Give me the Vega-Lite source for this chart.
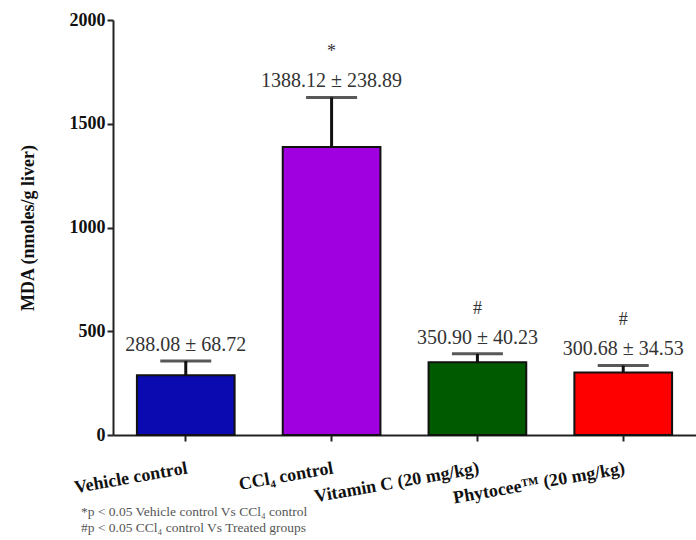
{
  "$schema": "https://vega.github.io/schema/vega-lite/v6.json",
  "autosize": "none",
  "width": 583,
  "height": 415,
  "padding": {"left": 113, "top": 20, "right": 0, "bottom": 105},
  "background": "white",
  "config": {
    "view": {"stroke": null},
    "font": "Liberation Serif"
  },
  "title": {
    "text": ["*p < 0.05 Vehicle control Vs CCl₄ control", "#p < 0.05 CCl₄ control Vs Treated groups"],
    "orient": "bottom",
    "anchor": "start",
    "frame": "group",
    "font": "Liberation Serif",
    "fontSize": 13.5,
    "fontWeight": "normal",
    "color": "#555555",
    "lineHeight": 16,
    "dx": -32,
    "dy": -6
  },
  "data": {
    "values": [
      {"group": "Vehicle control", "mean": 288.08, "sd": 68.72, "hi": 356.80, "label": "288.08 ± 68.72", "sig": ""},
      {"group": "CCl₄ control", "mean": 1388.12, "sd": 238.89, "hi": 1627.01, "label": "1388.12 ± 238.89", "sig": "*"},
      {"group": "Vitamin C (20 mg/kg)", "mean": 350.90, "sd": 40.23, "hi": 391.13, "label": "350.90 ± 40.23", "sig": "#"},
      {"group": "Phytocee™ (20 mg/kg)", "mean": 300.68, "sd": 34.53, "hi": 335.21, "label": "300.68 ± 34.53", "sig": "#"}
    ]
  },
  "encoding": {
    "x": {
      "field": "group",
      "type": "nominal",
      "sort": null,
      "scale": {"paddingInner": 0.33, "paddingOuter": 0.164},
      "axis": {
        "title": null,
        "domainColor": "#222222",
        "domainWidth": 2,
        "tickColor": "#222222",
        "tickWidth": 2,
        "tickSize": 6,
        "labelAngle": -10,
        "labelAlign": "right",
        "labelBaseline": "top",
        "labelPadding": 18,
        "labelFont": "Liberation Serif",
        "labelFontWeight": "bold",
        "labelFontSize": 18,
        "labelColor": "#111111",
        "labelLimit": 300
      }
    }
  },
  "layer": [
    {
      "mark": {"type": "rule", "color": "#111111", "strokeWidth": 3},
      "encoding": {
        "y": {"field": "mean", "type": "quantitative"},
        "y2": {"field": "hi"}
      }
    },
    {
      "mark": {"type": "bar", "stroke": "#111111", "strokeWidth": 2},
      "encoding": {
        "y": {
          "field": "mean",
          "type": "quantitative",
          "scale": {"domain": [0, 2000], "nice": false},
          "axis": {
            "title": "MDA (nmoles/g liver)",
            "values": [0, 500, 1000, 1500, 2000],
            "format": "d",
            "grid": false,
            "domainColor": "#222222",
            "domainWidth": 2,
            "tickColor": "#222222",
            "tickWidth": 2,
            "tickSize": 6,
            "labelFont": "Liberation Serif",
            "labelFontWeight": "bold",
            "labelFontSize": 18,
            "labelColor": "#111111",
            "labelPadding": 2,
            "titleFont": "Liberation Serif",
            "titleFontWeight": "bold",
            "titleFontSize": 18,
            "titleColor": "#111111",
            "titlePadding": 32
          }
        },
        "color": {
          "field": "group",
          "type": "nominal",
          "sort": null,
          "legend": null,
          "scale": {
            "domain": ["Vehicle control", "CCl₄ control", "Vitamin C (20 mg/kg)", "Phytocee™ (20 mg/kg)"],
            "range": ["#0a0ab0", "#a000e0", "#005a00", "#ff0000"]
          }
        }
      }
    },
    {
      "mark": {"type": "tick", "color": "#111111", "thickness": 3, "size": 51, "orient": "horizontal"},
      "encoding": {
        "y": {"field": "hi", "type": "quantitative"}
      }
    },
    {
      "mark": {"type": "text", "baseline": "alphabetic", "dy": -10, "fontSize": 20, "font": "Liberation Serif", "color": "#333333"},
      "encoding": {
        "y": {"field": "hi", "type": "quantitative"},
        "text": {"field": "label"}
      }
    },
    {
      "mark": {"type": "text", "baseline": "alphabetic", "dy": -40, "fontSize": 18, "font": "Liberation Serif", "color": "#333333"},
      "encoding": {
        "y": {"field": "hi", "type": "quantitative"},
        "text": {"field": "sig"}
      }
    }
  ]
}
